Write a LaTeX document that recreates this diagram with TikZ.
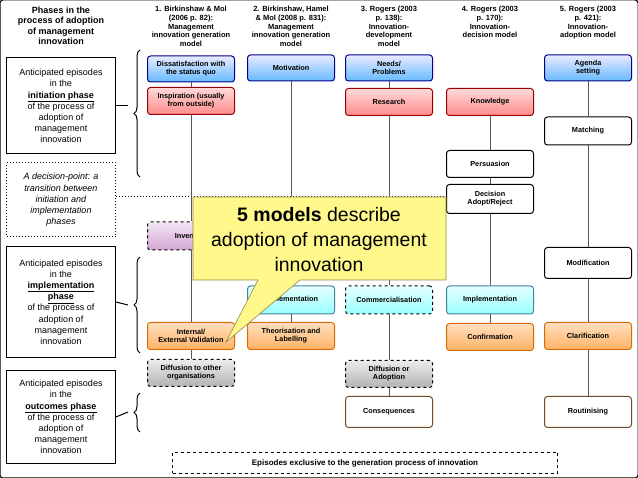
\documentclass[tikz,border=0pt]{standalone}
\usepackage{fontspec}
\setmainfont{Liberation Sans}
\usetikzlibrary{decorations.pathreplacing}
\begin{document}
\begin{tikzpicture}[x=1pt,y=-1pt,
 bx/.style={draw,rounded corners=3pt,line width=1pt,align=center,font=\fontsize{7.3}{8.2}\selectfont\bfseries,minimum width=87pt,inner sep=1pt},
 blue/.style={bx,draw=blue!55!black,top color=blue!8,bottom color=blue!45!cyan!60,minimum height=26pt},
 red/.style={bx,draw=red!60!black,top color=red!15,bottom color=red!45,minimum height=27pt},
 cyan/.style={bx,draw=cyan!60!black,top color=cyan!10,bottom color=cyan!40,minimum height=28pt},
 orange/.style={bx,draw=orange!85!black,top color=orange!25,bottom color=orange!60,minimum height=27pt},
 white/.style={bx,draw=black,fill=white,minimum height=27pt},
 brown/.style={bx,draw=brown!60!black,fill=white,minimum height=31pt},
 gray/.style={bx,draw=black,dashed,top color=gray!15,bottom color=gray!60,minimum height=27pt},
 hdr/.style={align=center,font=\fontsize{7.5}{8.6}\selectfont\bfseries,anchor=north},
 lbox/.style={draw,line width=1pt,align=center,minimum width=109pt,font=\fontsize{9}{11.2}\selectfont},
 ln/.style={draw=gray!70!black,line width=0.6pt}]
\useasboundingbox (0,0) rectangle (638,478);
\fill[white] (0,0) rectangle (638,478);
% headers
\node[hdr,font=\fontsize{9}{10.5}\selectfont\bfseries] (h0) at (61,3) {Phases in the\\process of adoption\\of management\\innovation};
\node[hdr] (h1) at (191,3) {1. Birkinshaw \& Mol\\(2006 p. 82):\\Management\\innovation generation\\model};
\node[hdr] (h2) at (291,3) {2. Birkinshaw, Hamel\\\& Mol (2008 p. 831):\\Management\\innovation generation\\model};
\node[hdr] (h3) at (389,3) {3. Rogers (2003\\p. 138):\\Innovation-\\development\\model};
\node[hdr] (h4) at (490,3) {4. Rogers (2003\\p. 170):\\Innovation-\\decision model};
\node[hdr] (h5) at (588,3) {5. Rogers (2003\\p. 421):\\Innovation-\\adoption model};
% left boxes
\node[lbox,minimum height=96pt] (l1) at (61,106) {Anticipated episodes\\in the\\\textbf{\underline{initiation phase}}\\of the process of\\adoption of\\management\\innovation};
\node[lbox,dotted,minimum height=74pt,font=\fontsize{9}{11.2}\selectfont\itshape] (l2) at (61,200) {A decision-point: a\\transition between\\initiation and\\implementation\\phases};
\node[lbox,minimum height=111pt] (l3) at (61,302) {Anticipated episodes\\in the\\\textbf{\underline{implementation}}\\\textbf{\underline{phase}}\\of the process of\\adoption of\\management\\innovation};
\node[lbox,minimum height=93pt] (l4) at (61,417) {Anticipated episodes\\in the\\\textbf{\underline{outcomes phase}}\\of the process of\\adoption of\\management\\innovation};
% braces
\coordinate (b1a) at (140,50); \coordinate (b1b) at (140,177);
\coordinate (b2a) at (140,257); \coordinate (b2b) at (140,353);
\coordinate (b3a) at (140,393); \coordinate (b3b) at (140,432);
\draw[line width=1pt,decorate,decoration={brace,amplitude=6pt}] (b1b) -- (b1a);
\draw[line width=1pt,decorate,decoration={brace,amplitude=6pt}] (b2b) -- (b2a);
\draw[line width=1pt,decorate,decoration={brace,amplitude=6pt}] (b3b) -- (b3a);
\draw[line width=1pt] (l1.east) -- (128,106); \draw[line width=1pt] (l3.east) -- (128,305);
\draw[line width=1pt] (l4.east) -- (128,412);
\coordinate (dl) at (446,197);
\draw[dotted,line width=1pt] (l2.east|-dl) -- (dl);
% column 1
\node[blue] (a1) at (191,69) {Dissatisfaction with\\the status quo};
\node[red] (a2) at (191,101) {Inspiration (usually\\from outside)};
\node[bx,dashed,draw=black,top color=violet!10,bottom color=violet!35,minimum height=28pt] (a3) at (191,236) {Invention};
\node[orange] (a4) at (191,336) {Internal/\\External Validation};
\node[gray] (a5) at (191,373) {Diffusion to other\\organisations};
% column 2
\node[blue] (b1) at (291,68) {Motivation};
\node[cyan] (b2) at (291,300) {Implementation};
\node[orange] (b3) at (291,336) {Theorisation and\\Labelling};
% column 3
\node[blue] (c1) at (389,68) {Needs/\\Problems};
\node[red] (c2) at (389,102) {Research};
\node[cyan,dashed,draw=black] (c3) at (389,300) {Commercialisation};
\node[gray] (c4) at (389,374) {Diffusion or\\Adoption};
\node[brown] (c5) at (389,412) {Consequences};
% column 4
\node[red] (d1) at (490,102) {Knowledge};
\node[white] (d2) at (490,164) {Persuasion};
\node[white,minimum height=29pt] (d3) at (490,199) {Decision\\Adopt/Reject};
\node[cyan] (d4) at (490,300) {Implementation};
\node[orange] (d5) at (490,337) {Confirmation};
% column 5
\node[blue] (e1) at (588,68) {Agenda\\setting};
\node[white,minimum height=28pt] (e2) at (588,131) {Matching};
\node[white,minimum height=31pt] (e3) at (588,263) {Modification};
\node[orange] (e4) at (588,336) {Clarification};
\node[brown] (e5) at (588,412) {Routinising};
% connectors
\draw[ln] (a1) -- (a2); \draw[ln] (a2) -- (a3); \draw[ln] (a3) -- (a4); \draw[ln] (a4) -- (a5);
\draw[ln] (b1) -- (b2); \draw[ln] (b2) -- (b3);
\draw[ln] (c1) -- (c2); \draw[ln] (c2) -- (c3); \draw[ln] (c3) -- (c4); \draw[ln] (c4) -- (c5);
\draw[ln] (d1) -- (d2); \draw[ln] (d2) -- (d3); \draw[ln] (d3) -- (d4); \draw[ln] (d4) -- (d5);
\draw[ln] (e1) -- (e2); \draw[ln] (e2) -- (e3); \draw[ln] (e3) -- (e4); \draw[ln] (e4) -- (e5);
% bottom
\node[draw,dashed,line width=1pt,minimum width=385pt,minimum height=21pt,font=\fontsize{8}{9}\selectfont\bfseries] (bt) at (365,463) {Episodes exclusive to the generation process of innovation};
% callout
\coordinate (tip) at (226,342);
\draw[fill=yellow!45,draw=yellow!50!black,line width=0.6pt] (193,197) -- (446,197) -- (446,280) -- (300,280) -- (tip) -- (258,280) -- (193,280) -- cycle;
\node[align=center,font=\fontsize{19.5}{25}\selectfont] (ct) at (319,240) {\textbf{5 models} describe\\adoption of management\\innovation};
\end{tikzpicture}
\end{document}
